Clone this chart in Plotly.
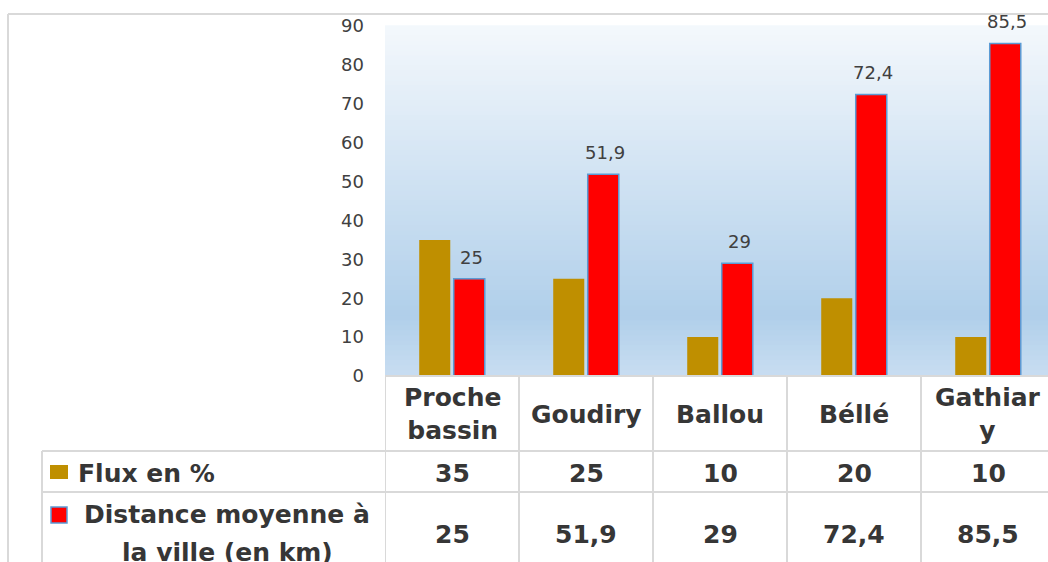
import plotly.graph_objects as go

# ---------------- data ----------------
categories = ["Proche bassin", "Goudiry", "Ballou", "Béllé", "Gathiary"]
header_labels = ["Proche<br>bassin", "Goudiry", "Ballou", "Béllé", "Gathiar<br>y"]
flux = [35, 25, 10, 20, 10]
distance = [25, 51.9, 29, 72.4, 85.5]
series_names = ["Flux en %", "Distance moyenne à la ville (en km)"]
y_ticks = list(range(0, 91, 10))

# ---------------- helpers ----------------
W, H = 1048, 562


def px(x):
    return x / W


def py(y):
    return 1 - y / H


def fr(v):
    return f"{v:g}".replace(".", ",")


GOLD = "#BF8F00"
RED = "#FF0000"
BLUE_EDGE = "#5B9BD5"
GRID = "#D9D9D9"
TXT = "#363636"
TICK = "#404040"
TABLE_FONT = dict(family="DejaVu Sans", size=25, color=TXT, weight="bold")

PLOT_L, PLOT_T, PLOT_B = 385, 26, 376
CAT_W = 134

fig = go.Figure()
fig.add_trace(go.Bar(
    x=categories, y=flux, name=series_names[0],
    marker=dict(color=GOLD, line=dict(width=0)),
    hoverinfo="x+y",
))
fig.add_trace(go.Bar(
    x=categories, y=distance, name=series_names[1],
    marker=dict(color=RED, line=dict(color=BLUE_EDGE, width=1.5)),
    hoverinfo="x+y",
))

shapes = []
# gradient background of the plot area
stops = [(0.0, (244, 248, 252)), (0.83, (176, 207, 234)), (1.0, (200, 221, 241))]


def interp(t):
    for (t0, c0), (t1, c1) in zip(stops[:-1], stops[1:]):
        if t0 <= t <= t1:
            f = (t - t0) / (t1 - t0) if t1 > t0 else 0
            return tuple(round(a + (b - a) * f) for a, b in zip(c0, c1))
    return stops[-1][1]


N = 70
for i in range(N):
    t = (i + 0.5) / N  # fraction from top
    c = interp(t)
    shapes.append(dict(
        type="rect", xref="x domain", yref="y domain",
        x0=0, x1=1, y0=1 - (i + 1) / N, y1=1 - i / N + 0.002,
        fillcolor=f"rgb{c}", line=dict(width=0), layer="below",
    ))

line = dict(color=GRID, width=2)
# outer chart border
shapes.append(dict(type="line", xref="paper", yref="paper",
                   x0=px(8), x1=1, y0=py(14), y1=py(14), line=line))
shapes.append(dict(type="line", xref="paper", yref="paper",
                   x0=px(8), x1=px(8), y0=py(14), y1=0, line=line))
# table horizontal lines
shapes.append(dict(type="line", xref="paper", yref="paper",
                   x0=px(PLOT_L), x1=1, y0=py(PLOT_B), y1=py(PLOT_B), line=line))
for yy in (451, 492):
    shapes.append(dict(type="line", xref="paper", yref="paper",
                       x0=px(42), x1=1, y0=py(yy), y1=py(yy), line=line))
# table vertical lines (category boundaries)
for i in range(len(categories) + 1):
    shapes.append(dict(type="line", xref="x", yref="paper",
                       x0=i - 0.5, x1=i - 0.5, y0=0, y1=py(PLOT_B), line=line))
shapes.append(dict(type="line", xref="paper", yref="paper",
                   x0=px(42), x1=px(42), y0=py(451), y1=0, line=line))
# legend keys in the table
shapes.append(dict(type="rect", xref="paper", yref="paper",
                   x0=px(50), x1=px(68), y0=py(479), y1=py(465),
                   fillcolor=GOLD, line=dict(width=0)))
shapes.append(dict(type="rect", xref="paper", yref="paper",
                   x0=px(51), x1=px(67), y0=py(523), y1=py(507),
                   fillcolor=RED, line=dict(color=BLUE_EDGE, width=1.5)))

annotations = []
# data labels on the distance bars
for c, v in zip(categories, distance):
    annotations.append(dict(
        x=c, y=v, xref="x", yref="y", text=fr(v), showarrow=False,
        xshift=19, yshift=9, yanchor="bottom",
        font=dict(family="DejaVu Sans", size=18, color=TICK),
    ))
# table header + values
for c, hl, f, d in zip(categories, header_labels, flux, distance):
    annotations.append(dict(x=c, y=py(414), xref="x", yref="paper", text=hl,
                            showarrow=False, yanchor="middle", font=TABLE_FONT))
    annotations.append(dict(x=c, y=py(473), xref="x", yref="paper", text=fr(f),
                            showarrow=False, yanchor="middle", font=TABLE_FONT))
    annotations.append(dict(x=c, y=py(534), xref="x", yref="paper", text=fr(d),
                            showarrow=False, yanchor="middle", font=TABLE_FONT))
# row labels
annotations.append(dict(x=px(76), y=py(473), xref="paper", yref="paper",
                        text=series_names[0], showarrow=False,
                        xanchor="left", yanchor="middle", font=TABLE_FONT))
annotations.append(dict(x=px(227), y=py(514), xref="paper", yref="paper",
                        text="Distance moyenne à", showarrow=False,
                        xanchor="center", yanchor="middle", font=TABLE_FONT))
annotations.append(dict(x=px(227), y=py(552), xref="paper", yref="paper",
                        text="la ville (en km)", showarrow=False,
                        xanchor="center", yanchor="middle", font=TABLE_FONT))

fig.update_layout(
    width=W, height=H, autosize=False,
    margin=dict(l=0, r=0, t=0, b=0, autoexpand=False),
    paper_bgcolor="white", plot_bgcolor="white",
    barmode="group", bargap=0.485, bargroupgap=0.1,
    showlegend=False,
    shapes=shapes, annotations=annotations,
    xaxis=dict(
        domain=[px(PLOT_L), 1],
        range=[-0.5, -0.5 + (W - PLOT_L) / CAT_W],
        showticklabels=False, showgrid=False, zeroline=False,
        showline=False, ticks="", automargin=False,
    ),
    yaxis=dict(
        domain=[py(PLOT_B), py(PLOT_T)],
        range=[0, 90], tickvals=y_ticks,
        showgrid=False, zeroline=False, showline=False, ticks="",
        ticklabelstandoff=20, automargin=False,
        tickfont=dict(family="DejaVu Sans", size=18, color=TICK),
    ),
)

fig.write_html(
    "out.html",
    config={"displayModeBar": False},
    post_script="document.body.style.margin='0';"
                "document.documentElement.style.overflow='hidden';",
)
